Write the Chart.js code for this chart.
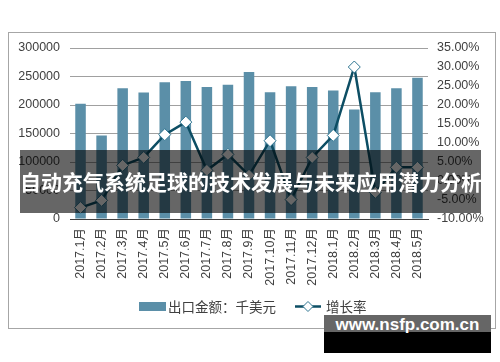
<!DOCTYPE html>
<html>
<head>
<meta charset="utf-8">
<script src="https://cdn.jsdelivr.net/npm/chart.js@4.4.0/dist/chart.umd.min.js"></script>
<style>
  body { margin: 0; background: #fff; }
  #wrap { position: relative; width: 500px; height: 362px; overflow: hidden; }
  #frame { position: absolute; left: 8px; top: 32px; width: 486px; height: 295px; border: 1px solid #A6A6A6; }
  canvas { position: absolute; left: 0; top: 0; }
  #banner {
    position: absolute; left: 20px; top: 150px; width: 461px; height: 63px;
    background: rgba(0, 0, 0, 0.6); color: #fff;
    font: bold 21px "Noto Sans CJK SC", sans-serif;
    line-height: 63px; text-align: center; white-space: nowrap;
  }
  #mark { position: absolute; left: 324px; top: 315px; width: 167px; height: 38px; }
  #mark .top { height: 17px; background: #666; }
  #mark .bot { height: 21px; background: #000; }
  #mark span {
    position: absolute; left: 0; top: 0; width: 100%; line-height: 44px; text-align: center;
    color: #fff; font: bold 17px "Liberation Sans", Arial, sans-serif;
  }
</style>
</head>
<body>
<div id="wrap">
  <div id="frame"></div>
  <canvas id="myChart" width="500" height="362"></canvas>
  <div id="banner">自动充气系统足球的技术发展与未来应用潜力分析</div>
  <div id="mark"><div class="top"></div><div class="bot"></div><span>www.nsfp.com.cn</span></div>
</div>
<script>
const months = [
  "2017.1月", "2017.2月", "2017.3月", "2017.4月", "2017.5月", "2017.6月",
  "2017.7月", "2017.8月", "2017.9月", "2017.10月", "2017.11月", "2017.12月",
  "2018.1月", "2018.2月", "2018.3月", "2018.4月", "2018.5月"
];
// 出口金额（千美元）
const exportValue = [
  202000, 146500, 229500, 222000, 240000, 242000, 231500, 235500, 258000,
  222500, 233000, 231500, 225500, 192000, 222500, 229500, 248000
];
// 增长率（%）
const growthRate = [
  -7.0, -5.1, 4.1, 6.2, 12.2, 15.5, 2.8, 7.0, 1.5,
  10.6, -4.9, 6.2, 12.0, 30.0, -3.0, 3.6, 3.6
];
const leftTicks = [0, 50000, 100000, 150000, 200000, 250000, 300000];
const rightTicks = [-10, -5, 0, 5, 10, 15, 20, 25, 30, 35];

const barColor = "#5B8FA8";
const lineColor = "#0D4E64";
const textColor = "#404040";
const tickFont = { family: "'Liberation Sans', Arial, 'Noto Sans CJK SC'", size: 12.5 };

// legend drawn by hand, below the axis labels
const legendPlugin = {
  id: "simpleLegend",
  afterDraw(chart) {
    const ctx = chart.ctx;
    const y = 306.5;
    const sets = chart.data.datasets;
    ctx.save();
    ctx.font = "13.5px 'Noto Sans CJK SC', sans-serif";
    ctx.textBaseline = "middle";
    let x = 139;

    // bar item
    ctx.fillStyle = barColor;
    ctx.fillRect(x, y - 4.5, 27, 9);
    x += 29;
    ctx.fillStyle = textColor;
    ctx.fillText(sets[1].label, x, y);
    x += ctx.measureText(sets[1].label).width + 19;

    // line item
    ctx.strokeStyle = lineColor;
    ctx.lineWidth = 2.5;
    ctx.beginPath();
    ctx.moveTo(x, y);
    ctx.lineTo(x + 26, y);
    ctx.stroke();
    const cx = x + 13, r = 5;
    ctx.beginPath();
    ctx.moveTo(cx, y - r);
    ctx.lineTo(cx + r, y);
    ctx.lineTo(cx, y + r);
    ctx.lineTo(cx - r, y);
    ctx.closePath();
    ctx.fillStyle = "#fff";
    ctx.fill();
    ctx.lineWidth = 1;
    ctx.strokeStyle = "#2E7591";
    ctx.stroke();
    x += 31;
    ctx.fillStyle = textColor;
    ctx.fillText(sets[0].label, x, y);
    ctx.restore();
  },
};

const ctx = document.getElementById("myChart").getContext("2d");
new Chart(ctx, {
  type: "bar",
  data: {
    labels: months,
    datasets: [
      {
        type: "line",
        label: "增长率",
        data: growthRate,
        yAxisID: "y1",
        order: 0,
        borderColor: lineColor,
        borderWidth: 2.5,
        tension: 0,
        pointStyle: "rectRot",
        pointRadius: 6,
        pointBackgroundColor: "#fff",
        pointBorderColor: "#2E7591",
        pointBorderWidth: 1,
      },
      {
        label: "出口金额：千美元",
        data: exportValue,
        yAxisID: "y",
        order: 1,
        backgroundColor: barColor,
        categoryPercentage: 1,
        barPercentage: 0.5,
      },
    ],
  },
  options: {
    responsive: false,
    animation: false,
    devicePixelRatio: 1,
    layout: { padding: { top: 48, bottom: 73, left: 0, right: 0 } },
    plugins: {
      legend: { display: false },
      tooltip: { enabled: false },
    },
    scales: {
      x: {
        grid: { display: false, drawTicks: false },
        border: { display: true, color: "#404040", width: 1 },
        ticks: {
          color: textColor,
          font: tickFont,
          minRotation: 90,
          maxRotation: 90,
          padding: 9,
          autoSkip: false,
        },
        afterFit: (scale) => { scale.height = 70; },
      },
      y: {
        position: "left",
        min: 0,
        max: 300000,
        afterBuildTicks: (scale) => { scale.ticks = leftTicks.map((v) => ({ value: v })); },
        grid: { color: "#A0A0A0", drawTicks: false },
        border: { display: false },
        ticks: { color: textColor, font: tickFont, padding: 10, callback: (v) => String(v) },
        afterFit: (scale) => { scale.width = 70; },
      },
      y1: {
        position: "right",
        min: -10,
        max: 35,
        afterBuildTicks: (scale) => { scale.ticks = rightTicks.map((v) => ({ value: v })); },
        grid: { display: false, drawTicks: false },
        border: { display: false },
        ticks: {
          color: textColor,
          font: tickFont,
          padding: 9,
          callback: (v) => v.toFixed(2) + "%",
        },
        afterFit: (scale) => { scale.width = 72; },
      },
    },
  },
  plugins: [legendPlugin],
});
</script>
</body>
</html>
